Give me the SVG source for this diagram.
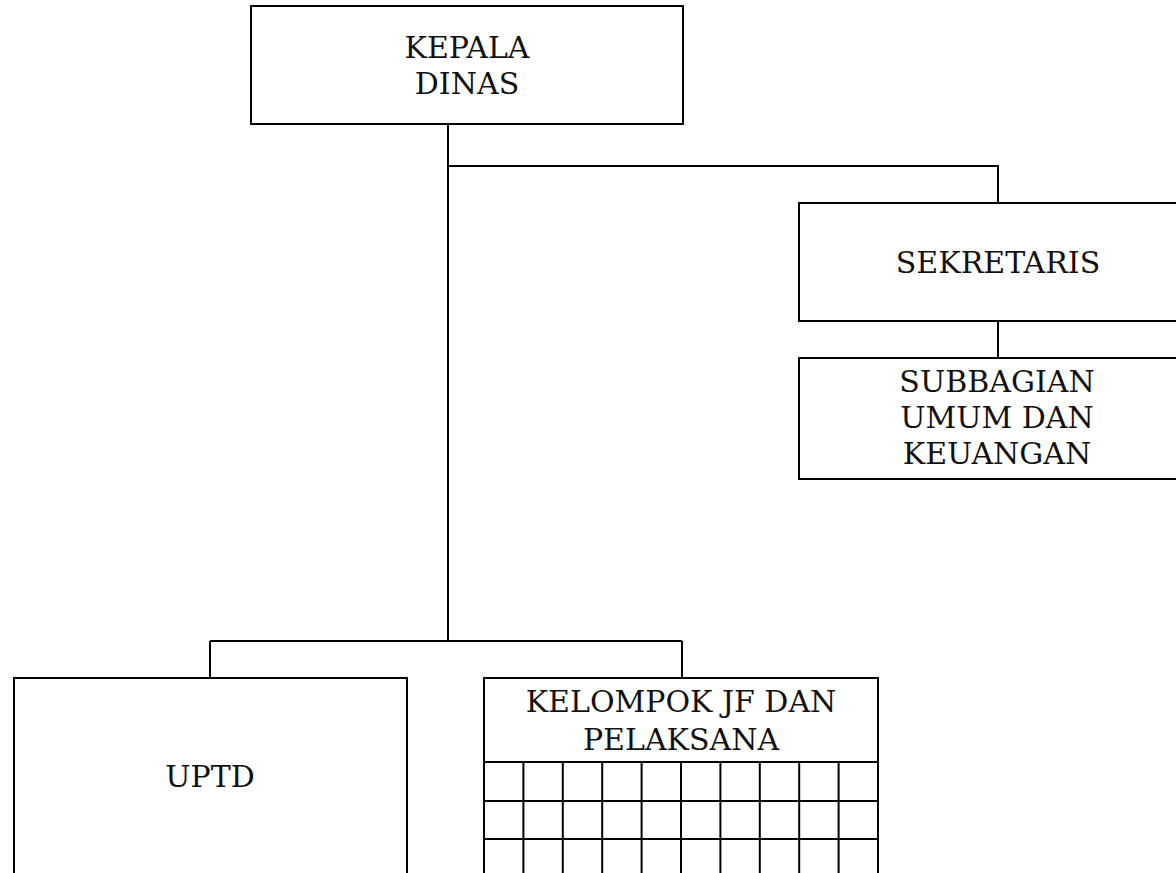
<svg xmlns="http://www.w3.org/2000/svg" width="1176" height="873" viewBox="0 0 1176 873">
<style>
.box{fill:#fff;stroke:#000;stroke-width:2}
.ln{fill:none;stroke:#000;stroke-width:2}
.t{font-family:"DejaVu Serif","Liberation Serif",serif;font-size:30px;fill:#111;text-anchor:middle}
</style>
<rect width="1176" height="873" fill="#fff"/>
<g id="connectors" class="ln">
<path d="M448 124 V641"/>
<path d="M448 166 H998 V203"/>
<path d="M998 321 V358"/>
<path d="M210 641 H682"/>
<path d="M210 641 V678"/>
<path d="M682 641 V678"/>
</g>
<g id="kepala">
<rect class="box" x="251" y="6" width="432" height="118"/>
<text class="t" x="467" y="58">KEPALA</text>
<text class="t" x="467" y="94">DINAS</text>
</g>
<g id="sekretaris">
<rect class="box" x="799" y="203" width="400" height="118"/>
<text class="t" x="998" y="273">SEKRETARIS</text>
</g>
<g id="subbagian">
<rect class="box" x="799" y="358" width="400" height="121"/>
<text class="t" x="997" y="392">SUBBAGIAN</text>
<text class="t" x="997" y="428">UMUM DAN</text>
<text class="t" x="997" y="464">KEUANGAN</text>
</g>
<g id="uptd">
<path class="ln" d="M14 890 V678 H407 V890"/>
<text class="t" x="210" y="787">UPTD</text>
</g>
<g id="kelompok">
<path class="ln" d="M484 890 V678 H878 V890"/>
<text class="t" x="681" y="712">KELOMPOK JF DAN</text>
<text class="t" x="681" y="750">PELAKSANA</text>
<path class="ln" d="M484 762 H878 M484 801 H878 M484 839 H878"/>
<path class="ln" d="M523.4 762 V890 M562.8 762 V890 M602.2 762 V890 M641.6 762 V890 M681 762 V890 M720.4 762 V890 M759.8 762 V890 M799.2 762 V890 M838.6 762 V890"/>
</g>
</svg>
